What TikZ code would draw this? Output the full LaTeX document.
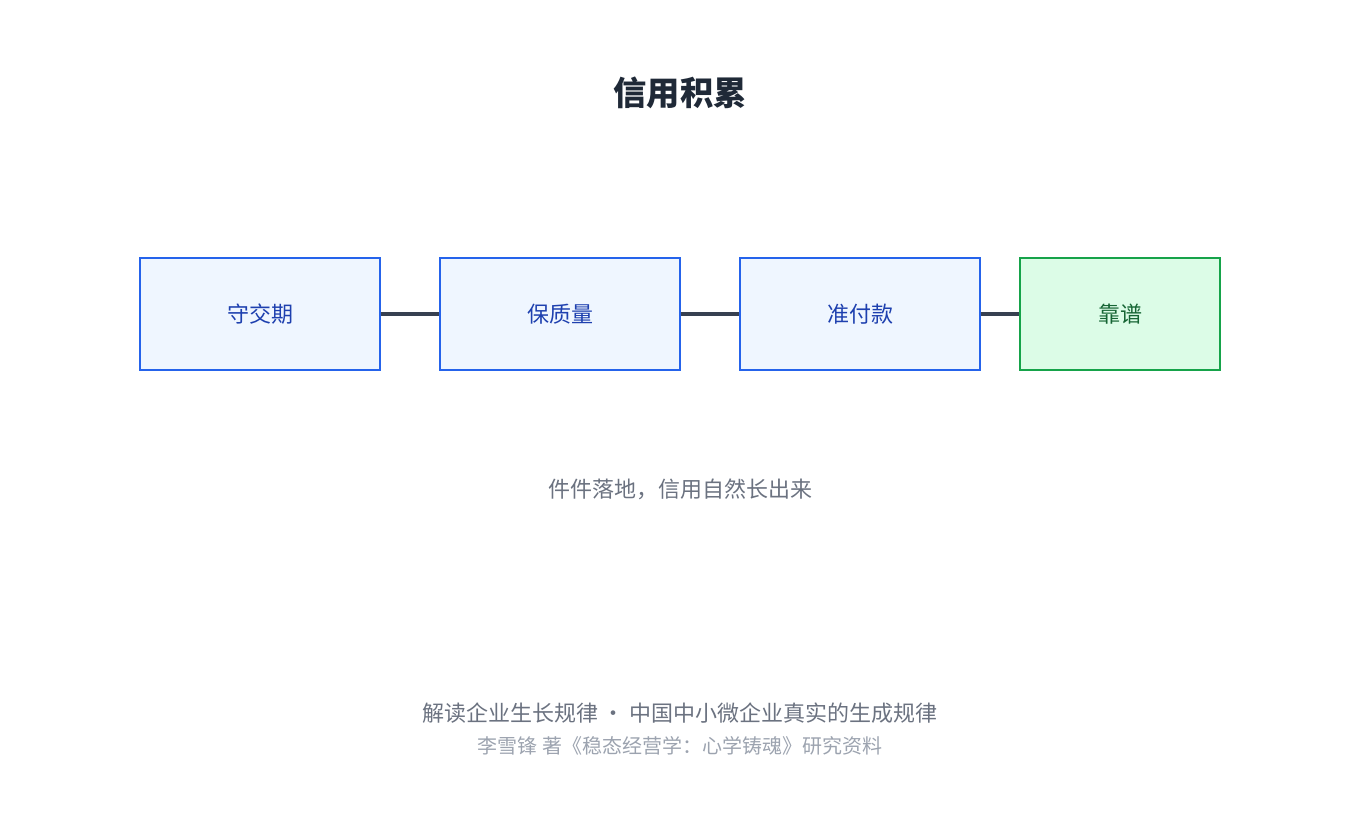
\documentclass[tikz,border=0pt]{standalone}
\usepackage{fontspec}
\setmainfont{Noto Sans CJK SC}
\usepackage{tikz}
\usetikzlibrary{positioning}
\definecolor{stepline}{HTML}{2563EB}
\definecolor{stepfill}{HTML}{EFF6FF}
\definecolor{steptext}{HTML}{1E40AF}
\definecolor{goalline}{HTML}{16A34A}
\definecolor{goalfill}{HTML}{DCFCE7}
\definecolor{goaltext}{HTML}{166534}
\definecolor{linkgray}{HTML}{374151}
\definecolor{titlegray}{HTML}{1F2937}
\definecolor{notegray}{HTML}{6B7280}
\definecolor{softgray}{HTML}{9CA3AF}
\begin{document}
\begin{tikzpicture}[
    x=0.75pt, y=-0.75pt,
    step_style/.style={draw=stepline, fill=stepfill, line width=2pt, text=steptext,
        minimum width=180pt, minimum height=84pt, font=\fontsize{16.5}{20}\selectfont},
    goal_style/.style={step_style, draw=goalline, fill=goalfill, text=goaltext, minimum width=150pt},
    link_style/.style={linkgray, line width=2.5pt}
]
    \useasboundingbox (0,0) rectangle (1360,830);

    % Title
    \node[text=titlegray, font=\fontsize{25}{30}\selectfont\bfseries] (title) at (680,93) {信用积累};

    % Steps
    \node[step_style] (deadline) at (260,314) {守交期};
    \node[step_style] (quality) at (560,314) {保质量};
    \node[step_style] (payment) at (860,314) {准付款};
    \node[goal_style] (reliable) at (1120,314) {靠谱};

    % Links
    \draw[link_style] (deadline) -- (quality);
    \draw[link_style] (quality) -- (payment);
    \draw[link_style] (payment) -- (reliable);

    % Notes
    \node[text=notegray, font=\fontsize{16.5}{20}\selectfont] (note) at (680,489) {件件落地，信用自然长出来};
    \node[text=notegray, font=\fontsize{16.5}{20}\selectfont] (footer) at (680,713) {解读企业生长规律 · 中国中小微企业真实的生成规律};
    \node[text=softgray, font=\fontsize{15}{18}\selectfont] (source) at (680,746) {李雪锋 著《稳态经营学：心学铸魂》研究资料};
\end{tikzpicture}
\end{document}
